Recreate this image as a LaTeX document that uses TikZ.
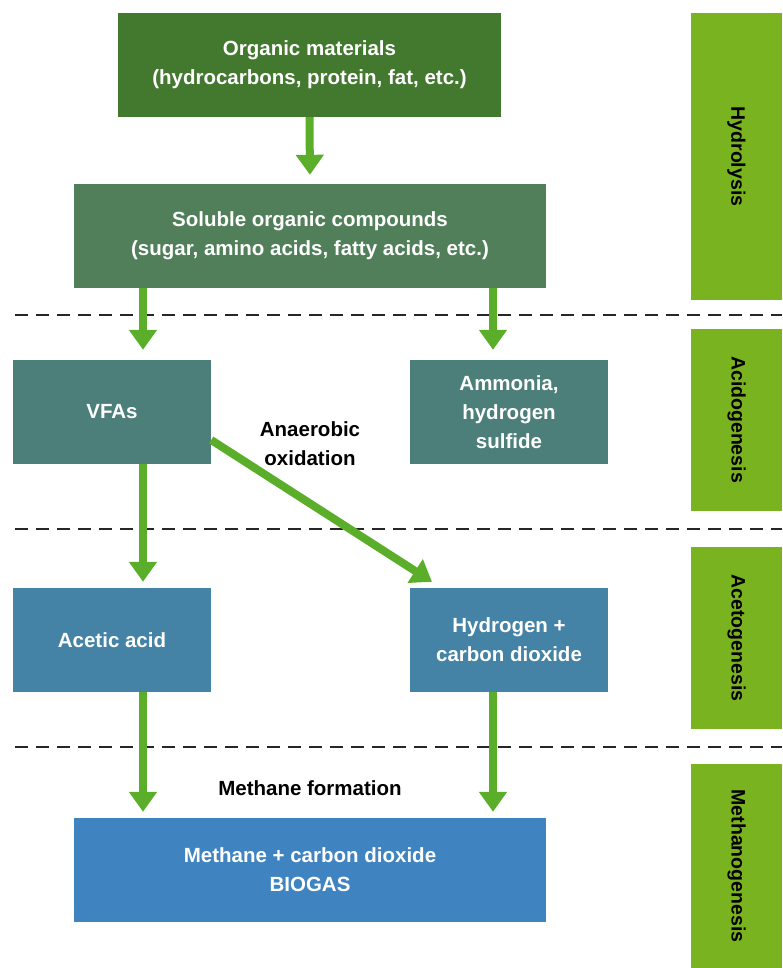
\documentclass[tikz,border=0pt]{standalone}
\usepackage{fontspec}
\setmainfont{Liberation Sans}
\usetikzlibrary{arrows.meta}
\definecolor{cOrg}{HTML}{43782F}
\definecolor{cSol}{HTML}{517F59}
\definecolor{cAcid}{HTML}{4D7F7A}
\definecolor{cAcet}{HTML}{4482A6}
\definecolor{cGas}{HTML}{3F84C1}
\definecolor{cBar}{HTML}{79B31F}
\definecolor{cArr}{HTML}{5AAE2A}
\begin{document}
\begin{tikzpicture}[x=1pt,y=-1pt,
  box/.style={fill=#1, draw=none, text=white, align=center, inner sep=0pt,
    font=\fontsize{20.5}{29}\selectfont\bfseries},
  lbl/.style={text=black, align=center, inner sep=0pt,
    font=\fontsize{20.5}{29}\selectfont\bfseries},
  bar/.style={fill=cBar, draw=none, minimum width=91pt, inner sep=0pt},
  barlbl/.style={text=black, rotate=-90, inner sep=0pt,
    font=\fontsize{19.5}{24}\selectfont\bfseries},
  arr/.style={draw=cArr, line width=8pt, -{Triangle[width=27pt,length=20pt]}},
  sep/.style={draw=black!85, line width=2pt, dash pattern=on 13pt off 8pt}
]
\useasboundingbox (0,0) rectangle (782,968);

% dashed separators
\coordinate (s1a) at (15,315); \coordinate (s1b) at (782,315);
\coordinate (s2a) at (15,529); \coordinate (s2b) at (782,529);
\coordinate (s3a) at (15,747); \coordinate (s3b) at (782,747);
\draw[sep] (s1a) -- (s1b);
\draw[sep] (s2a) -- (s2b);
\draw[sep] (s3a) -- (s3b);

% phase bars
\node[bar, minimum height=287pt] (b1) at (736.5,156.5) {};
\node[bar, minimum height=182pt] (b2) at (736.5,419.5) {};
\node[bar, minimum height=182pt] (b3) at (736.5,638) {};
\node[bar, minimum height=204pt] (b4) at (736.5,866) {};
\node[barlbl] (l1) at (b1.center) {Hydrolysis};
\node[barlbl] (l2) at (b2.center) {Acidogenesis};
\node[barlbl] (l3) at (b3.center) {Acetogenesis};
\node[barlbl] (l4) at (b4.center) {Methanogenesis};

% boxes
\node[box=cOrg, minimum width=383pt, minimum height=104pt] (org) at (309.5,65)
  {Organic materials\\(hydrocarbons, protein, fat, etc.)};
\node[box=cSol, minimum width=472pt, minimum height=104pt] (sol) at (310,236)
  {Soluble organic compounds\\(sugar, amino acids, fatty acids, etc.)};
\node[box=cAcid, minimum width=198pt, minimum height=104pt] (vfa) at (112,412) {VFAs};
\node[box=cAcid, minimum width=198pt, minimum height=104pt] (amm) at (509,412)
  {Ammonia,\\hydrogen\\sulfide};
\node[box=cAcet, minimum width=198pt, minimum height=104pt] (ace) at (112,640) {Acetic acid};
\node[box=cAcet, minimum width=198pt, minimum height=104pt] (hyd) at (509,640)
  {Hydrogen +\\carbon dioxide};
\node[box=cGas, minimum width=472pt, minimum height=104pt] (gas) at (310,870)
  {Methane + carbon dioxide\\BIOGAS};

% labels
\node[lbl] (ana) at (310,444) {Anaerobic\\oxidation};
\node[lbl] (mf) at (310,788) {Methane formation};

% arrow columns
\coordinate (cA) at (143,0);
\coordinate (cB) at (493,0);

% arrows
\draw[arr, shorten >=9pt] (org.south) -- (sol.north);
\draw[arr, shorten >=10pt] (sol.south -| cA) -- (vfa.north -| cA);
\draw[arr, shorten >=10pt] (sol.south -| cB) -- (amm.north -| cB);
\draw[arr, shorten >=6pt] (vfa.south -| cA) -- (ace.north -| cA);
\draw[arr, shorten >=6pt] (ace.south -| cA) -- (gas.north -| cA);
\draw[arr, shorten >=6pt] (hyd.south -| cB) -- (gas.north -| cB);
\coordinate (dA) at ([yshift=-28pt]vfa.east);
\coordinate (dB) at ([xshift=-77pt,yshift=6pt]hyd.north);
\draw[arr] (dA) -- (dB);
\end{tikzpicture}
\end{document}
